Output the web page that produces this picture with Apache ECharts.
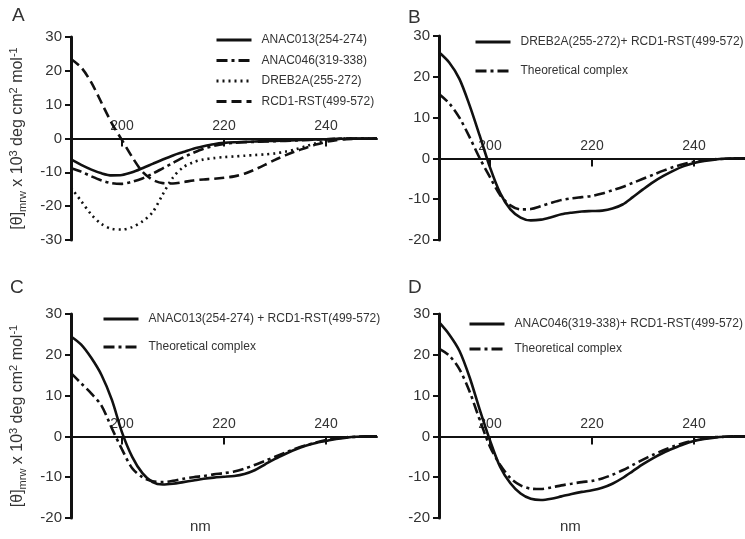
<!DOCTYPE html>
<html>
<head>
<meta charset="utf-8">
<script src="https://cdn.jsdelivr.net/npm/echarts@6/dist/echarts.min.js"></script>
<style>
  html, body { margin: 0; padding: 0; background: #fff; }
  #chart { width: 745px; height: 539px; }
</style>
</head>
<body>
<div id="chart"></div>
<script>
// wavelength (nm), read every 2 nm off the figure
const wavelengths = [190, 192, 194, 196, 198, 200, 202, 204, 206, 208, 210, 212, 214, 216, 218, 220,
  222, 224, 226, 228, 230, 232, 234, 236, 238, 240, 242, 244, 246, 248, 250]

// panel A (x 10^3 deg cm2 mol-1)
const anac013 = [-6.2, -7.8, -9.2, -10.3, -10.9, -10.8, -10.0, -8.8, -7.5, -6.2, -5.0, -4.0, -3.0, -2.3, -1.7, -1.3,
  -1.1, -1.0, -0.9, -0.8, -0.7, -0.6, -0.5, -0.4, -0.3, -0.2, -0.1, -0.05, 0, 0, 0]
const anac046 = [-8.8, -9.8, -11.2, -12.4, -13.2, -13.4, -12.8, -11.8, -10.4, -8.8, -7.2, -5.6, -4.2, -3.0, -2.2, -1.6,
  -1.3, -1.1, -1.0, -0.9, -0.8, -0.7, -0.6, -0.4, -0.3, -0.2, -0.1, 0, 0, 0, 0]
const dreb2a = [-14.5, -18.5, -22.5, -25.3, -26.7, -26.9, -26.2, -24.5, -21.8, -16.5, -11.5, -8.5, -7.0, -6.2, -5.8, -5.5,
  -5.3, -5.1, -4.9, -4.7, -4.4, -3.9, -3.2, -2.3, -1.4, -0.6, -0.2, 0, 0, 0, 0]
const rcd1 = [23.5, 21.0, 16.5, 10.5, 4.5, -0.5, -5.5, -9.8, -12.2, -13.2, -13.3, -12.9, -12.4, -12.1, -11.9, -11.6,
  -11.2, -10.4, -9.2, -7.8, -6.3, -5.0, -3.8, -2.8, -1.8, -1.0, -0.5, -0.2, -0.1, 0, 0]

// panel B
const drebComplex = [26.0, 23.5, 19.5, 13.0, 5.5, -2.2, -8.5, -12.5, -14.5, -15.2, -15.0, -14.4, -13.7, -13.3, -13.0, -12.9,
  -12.8, -12.3, -11.3, -9.5, -7.6, -5.8, -4.3, -3.0, -1.9, -1.1, -0.6, -0.3, -0.1, 0, 0]
const drebTheory = [15.8, 13.5, 10.0, 5.2, 0.0, -4.6, -9.0, -11.5, -12.5, -12.4, -11.7, -10.9, -10.2, -9.8, -9.5, -9.2,
  -8.6, -7.8, -7.0, -6.0, -5.0, -4.0, -3.0, -2.1, -1.4, -0.8, -0.4, -0.2, -0.1, 0, 0]

// panel C
const anac013Complex = [24.5, 22.5, 19.2, 15.0, 9.0, 1.0, -5.0, -9.0, -11.2, -11.8, -11.6, -11.2, -10.8, -10.4, -10.1, -9.9,
  -9.7, -9.2, -8.3, -6.9, -5.5, -4.3, -3.2, -2.3, -1.6, -1.1, -0.6, -0.3, -0.1, 0, 0]
const anac013Theory = [15.5, 13.0, 10.5, 7.5, 2.0, -3.2, -7.8, -10.0, -11.0, -11.2, -10.9, -10.4, -10.0, -9.7, -9.3, -9.0,
  -8.6, -7.9, -7.0, -6.0, -5.0, -4.0, -3.0, -2.2, -1.5, -0.9, -0.5, -0.2, -0.1, 0, 0]

// panel D
const anac046Complex = [28.0, 25.0, 21.0, 14.5, 6.5, -1.0, -7.5, -11.5, -14.0, -15.3, -15.6, -15.3, -14.7, -14.1, -13.6, -13.2,
  -12.6, -11.6, -10.2, -8.5, -6.8, -5.3, -4.0, -2.9, -1.9, -1.1, -0.6, -0.3, -0.1, 0, 0]
const anac046Theory = [21.5, 19.8, 16.5, 11.0, 4.0, -2.5, -7.0, -10.2, -12.0, -12.8, -12.9, -12.5, -12.0, -11.6, -11.2, -10.9,
  -10.3, -9.4, -8.3, -7.0, -5.7, -4.5, -3.4, -2.4, -1.6, -1.0, -0.5, -0.2, -0.1, 0, 0]

const xTicks = [200, 220, 240]
const yMins = [-30, -20, -20, -20]
const Y_MAX = 30
const panelLetters = ['A', 'B', 'C', 'D']

const FONT = '"Liberation Sans", Arial, sans-serif'
const TEXT = '#333'
const INK = '#111'

// line dash patterns
const SOLID = 'solid'
const DASH_DOT = [11, 4, 3, 4]
const DOTTED = [2, 4]
const LONG_DASH = [10, 5]

const grids = [
  { left: 71, top: 37, width: 306, height: 203 },
  { left: 439, top: 36, width: 306, height: 204 },
  { left: 71, top: 314, width: 306, height: 204 },
  { left: 439, top: 314, width: 306, height: 204 }
]

const yName = '{t|[θ]}{sub|mrw}{t| x 10}{sup|3}{t| deg cm}{sup|2}{t| mol}{sup|-1}'

// x axis sits on y = 0: shift it up from the grid bottom
function makeX(i) {
  const g = grids[i]
  const shift = g.height * (0 - yMins[i]) / (Y_MAX - yMins[i])
  return {
    type: 'value', gridIndex: i, min: 190, max: 250,
    position: 'bottom', offset: -shift,
    axisLine: { onZero: false, lineStyle: { color: INK, width: 2 } },
    axisTick: { inside: false, length: 8, customValues: xTicks, lineStyle: { color: INK, width: 2 } },
    axisLabel: { inside: true, margin: 5, customValues: xTicks, fontSize: 14, color: TEXT, fontFamily: FONT },
    splitLine: { show: false }
  }
}

function makeY(i, withName) {
  const y = {
    type: 'value', gridIndex: i, min: yMins[i], max: Y_MAX, interval: 10,
    axisLine: { show: true, onZero: false, lineStyle: { color: INK, width: 3 } },
    axisTick: { show: true, length: 6, lineStyle: { color: INK, width: 2 } },
    axisLabel: { margin: 9, fontSize: 15, color: TEXT, fontFamily: FONT },
    splitLine: { show: false }
  }
  if (withName) {
    y.name = yName
    y.nameLocation = 'middle'
    y.nameRotate = 90
    y.nameGap = 42
    y.nameTextStyle = {
      rich: {
        t: { fontSize: 16, color: TEXT, fontFamily: FONT, lineHeight: 22, verticalAlign: 'middle' },
        sub: { fontSize: 11, color: TEXT, fontFamily: FONT, verticalAlign: 'bottom', padding: [0, 0, 1, 0] },
        sup: { fontSize: 11, color: TEXT, fontFamily: FONT, verticalAlign: 'top', padding: [1, 0, 0, 0] }
      }
    }
  }
  return y
}

function line(name, values, dash, i) {
  return {
    name: name,
    type: 'line',
    xAxisIndex: i,
    yAxisIndex: i,
    data: wavelengths.map((w, k) => [w, values[k]]),
    symbol: 'none',
    smooth: 0.3,
    lineStyle: { color: INK, width: 2.6, type: dash },
    itemStyle: { color: INK },
    silent: true
  }
}

function legend(names, left, top, gap) {
  return {
    orient: 'vertical', left: left, top: top, padding: 0,
    data: names, itemWidth: 35, itemHeight: 14, itemGap: gap,
    itemStyle: { opacity: 0 },
    lineStyle: { width: 3 },
    textStyle: { fontSize: 12, color: TEXT, fontFamily: FONT, padding: [0, 0, 0, 5] },
    selectedMode: false
  }
}

const series = [
  line('ANAC013(254-274)', anac013, SOLID, 0),
  line('ANAC046(319-338)', anac046, DASH_DOT, 0),
  line('DREB2A(255-272)', dreb2a, DOTTED, 0),
  line('RCD1-RST(499-572)', rcd1, LONG_DASH, 0),
  line('DREB2A(255-272)+ RCD1-RST(499-572)', drebComplex, SOLID, 1),
  line('Theoretical complex', drebTheory, DASH_DOT, 1),
  line('ANAC013(254-274) + RCD1-RST(499-572)', anac013Complex, SOLID, 2),
  line('Theoretical complex', anac013Theory, DASH_DOT, 2),
  line('ANAC046(319-338)+ RCD1-RST(499-572)', anac046Complex, SOLID, 3),
  line('Theoretical complex', anac046Theory, DASH_DOT, 3)
]

const letterPos = [[12, 6], [408, 8], [10, 278], [408, 278]]

const chart = echarts.init(document.getElementById('chart'), null, { renderer: 'canvas' })
chart.setOption({
  animation: false,
  backgroundColor: '#fff',
  grid: grids,
  xAxis: [0, 1, 2, 3].map(makeX),
  yAxis: [makeY(0, true), makeY(1, false), makeY(2, true), makeY(3, false)],
  legend: [
    legend(['ANAC013(254-274)', 'ANAC046(319-338)', 'DREB2A(255-272)', 'RCD1-RST(499-572)'], 215, 34, 8.5),
    legend(['DREB2A(255-272)+ RCD1-RST(499-572)', 'Theoretical complex'], 474, 36, 17),
    legend(['ANAC013(254-274) + RCD1-RST(499-572)', 'Theoretical complex'], 102, 313, 16),
    legend(['ANAC046(319-338)+ RCD1-RST(499-572)', 'Theoretical complex'], 468, 318, 13)
  ],
  graphic: panelLetters.map((t, i) => ({
    type: 'text', left: letterPos[i][0], top: letterPos[i][1],
    style: { text: t, fontSize: 19, fill: TEXT, fontFamily: FONT }
  })).concat([
    { type: 'text', left: 190, top: 519, style: { text: 'nm', fontSize: 15, fill: TEXT, fontFamily: FONT } },
    { type: 'text', left: 560, top: 519, style: { text: 'nm', fontSize: 15, fill: TEXT, fontFamily: FONT } }
  ]),
  series: series
})
</script>
</body>
</html>
